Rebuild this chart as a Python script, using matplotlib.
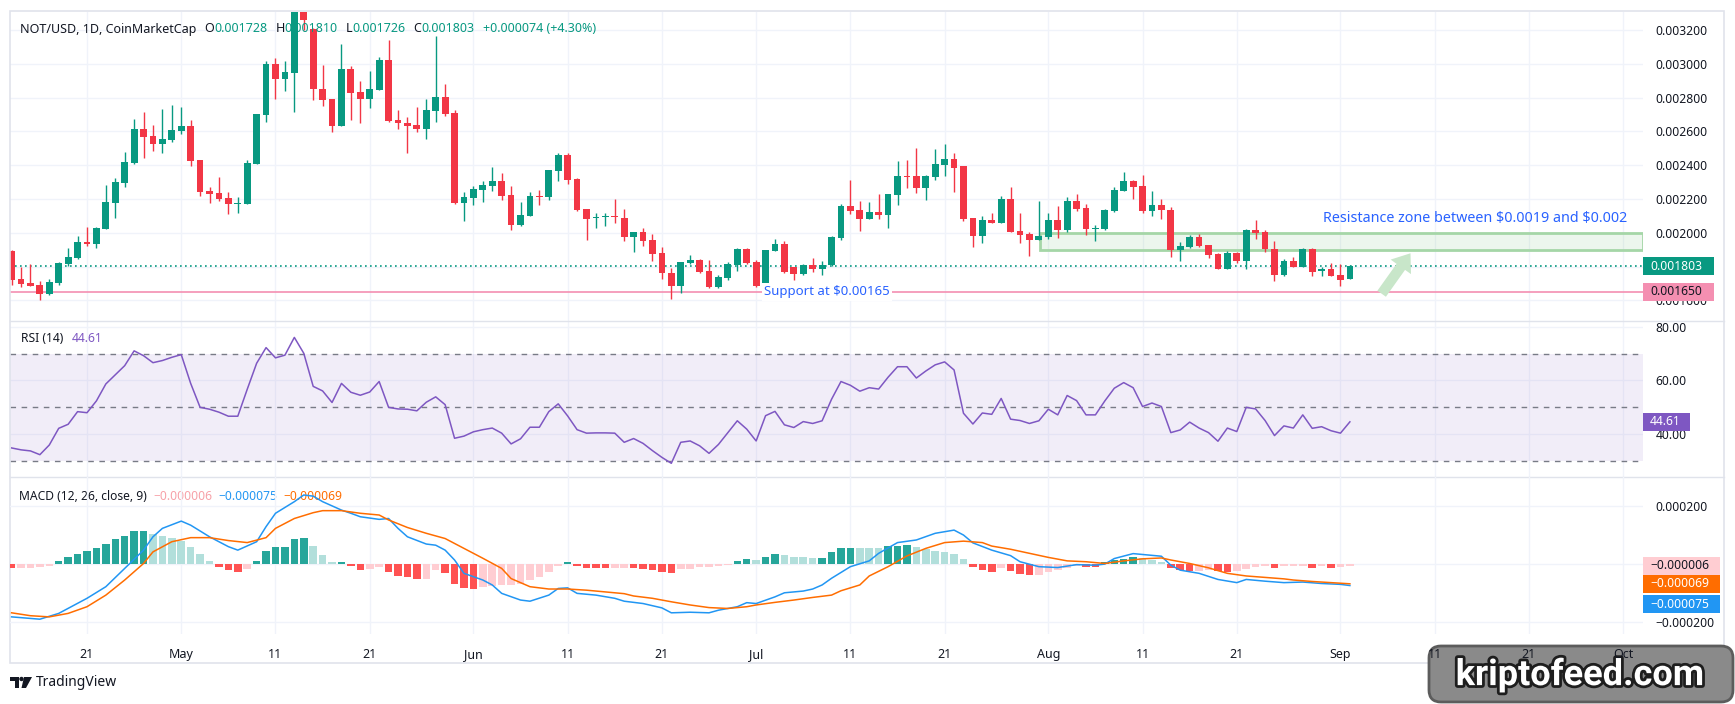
import numpy as np
import pandas as pd
import matplotlib
matplotlib.use("Agg")
import matplotlib.pyplot as plt
import matplotlib.patheffects as pe
from matplotlib.patches import Rectangle, FancyBboxPatch, Polygon, Circle
from matplotlib.transforms import IdentityTransform
from matplotlib.ticker import FuncFormatter

W, H = 1735, 704

# ---- data (prices in units of 0.001 USD) ----
start = "2025-04-13"
opens = [1.892, 1.727, 1.703, 1.691, 1.640, 1.705, 1.817, 1.853, 1.946, 1.936,
         2.024, 2.178, 2.297, 2.413, 2.614, 2.573, 2.527, 2.549, 2.604, 2.632,
         2.431, 2.247, 2.236, 2.206, 2.172, 2.172, 2.407, 2.699, 2.999, 2.912,
         2.948, 3.340, 3.204, 2.851, 2.792, 2.632, 2.969, 2.833, 2.792, 2.847,
         3.023, 2.667, 2.652, 2.638, 2.614, 2.723, 2.804, 2.709, 2.176, 2.208,
         2.253, 2.277, 2.306, 2.224, 2.046, 2.099, 2.218, 2.212, 2.366, 2.460,
         2.318, 2.141, 2.088, 2.092, 2.094, 2.088, 1.977, 2.005, 1.957, 1.881,
         1.762, 1.685, 1.821, 1.839, 1.774, 1.679, 1.733, 1.809, 1.904, 1.827,
         1.685, 1.892, 1.934, 1.798, 1.756, 1.809, 1.786, 1.809, 1.969, 2.159,
         2.135, 2.082, 2.123, 2.105, 2.224, 2.336, 2.336, 2.265, 2.330, 2.401,
         2.437, 2.395, 2.088, 1.981, 2.076, 2.058, 2.200, 2.011, 1.993, 1.957,
         1.975, 2.076, 2.017, 2.188, 2.147, 2.023, 2.023, 2.129, 2.247, 2.306,
         2.277, 2.129, 2.165, 2.135, 1.898, 1.916, 1.975, 1.928, 1.875, 1.788,
         1.881, 1.835, 2.017, 2.005, 1.902, 1.752, 1.831, 1.800, 1.902, 1.772,
         1.786, 1.750, 1.728]
highs = [1.898, 1.796, 1.815, 1.715, 1.727, 1.829, 1.910, 1.981, 2.034, 2.034,
         2.283, 2.324, 2.478, 2.673, 2.715, 2.638, 2.733, 2.756, 2.744, 2.667,
         2.431, 2.271, 2.330, 2.241, 2.212, 2.431, 2.703, 3.017, 3.036, 3.017,
         3.400, 3.400, 3.210, 2.993, 2.792, 3.119, 2.989, 2.898, 2.957, 3.040,
         3.141, 2.727, 2.685, 2.744, 2.792, 3.164, 2.881, 2.727, 2.241, 2.277,
         2.306, 2.389, 2.354, 2.277, 2.182, 2.241, 2.253, 2.372, 2.472, 2.472,
         2.324, 2.141, 2.117, 2.117, 2.200, 2.141, 2.005, 2.028, 1.993, 1.916,
         1.792, 1.827, 1.869, 1.845, 1.839, 1.750, 1.827, 1.910, 1.910, 1.839,
         1.898, 1.963, 1.952, 1.798, 1.813, 1.851, 1.833, 1.981, 2.170, 2.312,
         2.188, 2.182, 2.230, 2.230, 2.425, 2.431, 2.502, 2.340, 2.496, 2.525,
         2.472, 2.395, 2.088, 2.100, 2.117, 2.218, 2.271, 2.117, 2.005, 2.188,
         2.117, 2.159, 2.212, 2.230, 2.170, 2.046, 2.141, 2.271, 2.360, 2.310,
         2.342, 2.247, 2.200, 2.153, 1.946, 1.987, 1.993, 1.928, 1.880, 1.892,
         1.885, 2.020, 2.076, 2.017, 1.952, 1.845, 1.855, 1.908, 1.908, 1.800,
         1.819, 1.815, 1.810]
lows = [1.691, 1.681, 1.687, 1.604, 1.634, 1.693, 1.804, 1.845, 1.924, 1.912,
        2.024, 2.090, 2.273, 2.409, 2.445, 2.486, 2.474, 2.539, 2.585, 2.397,
        2.220, 2.178, 2.190, 2.113, 2.119, 2.172, 2.407, 2.658, 2.792, 2.839,
        2.715, 3.200, 2.783, 2.752, 2.598, 2.632, 2.667, 2.652, 2.738, 2.845,
        2.654, 2.616, 2.474, 2.598, 2.557, 2.658, 2.690, 2.170, 2.070, 2.165,
        2.182, 2.247, 2.194, 2.017, 2.040, 2.099, 2.165, 2.194, 2.306, 2.289,
        2.129, 1.957, 2.028, 2.042, 2.058, 1.952, 1.887, 1.922, 1.833, 1.727,
        1.608, 1.644, 1.815, 1.762, 1.675, 1.673, 1.721, 1.774, 1.815, 1.681,
        1.681, 1.890, 1.762, 1.721, 1.750, 1.768, 1.750, 1.804, 1.957, 2.111,
        2.011, 2.080, 2.082, 2.028, 2.165, 2.265, 2.236, 2.194, 2.312, 2.336,
        2.241, 2.070, 1.916, 1.940, 2.056, 2.056, 2.003, 1.940, 1.863, 1.955,
        1.963, 1.969, 2.005, 2.129, 1.987, 1.952, 2.017, 2.123, 2.247, 2.200,
        2.117, 2.099, 2.082, 1.857, 1.833, 1.912, 1.918, 1.851, 1.784, 1.784,
        1.819, 1.786, 1.963, 1.887, 1.717, 1.744, 1.798, 1.798, 1.745, 1.745,
        1.744, 1.687, 1.726]
closes = [1.723, 1.699, 1.687, 1.640, 1.709, 1.821, 1.857, 1.946, 1.936, 2.028,
          2.182, 2.301, 2.419, 2.614, 2.569, 2.527, 2.555, 2.608, 2.632, 2.427,
          2.243, 2.232, 2.202, 2.172, 2.176, 2.413, 2.703, 2.999, 2.912, 2.951,
          3.330, 3.260, 2.849, 2.788, 2.632, 2.969, 2.829, 2.792, 2.851, 3.023,
          2.663, 2.648, 2.632, 2.614, 2.727, 2.804, 2.703, 2.176, 2.212, 2.259,
          2.283, 2.306, 2.218, 2.046, 2.105, 2.218, 2.212, 2.372, 2.460, 2.312,
          2.135, 2.082, 2.094, 2.099, 2.092, 1.977, 2.005, 1.952, 1.877, 1.760,
          1.685, 1.827, 1.839, 1.768, 1.679, 1.739, 1.815, 1.904, 1.821, 1.685,
          1.898, 1.934, 1.768, 1.756, 1.809, 1.786, 1.809, 1.975, 2.159, 2.129,
          2.082, 2.123, 2.105, 2.230, 2.336, 2.330, 2.265, 2.336, 2.407, 2.437,
          2.383, 2.082, 1.981, 2.076, 2.058, 2.200, 2.005, 1.987, 1.957, 1.981,
          2.076, 2.017, 2.188, 2.141, 2.023, 2.028, 2.135, 2.253, 2.306, 2.271,
          2.129, 2.165, 2.135, 1.898, 1.922, 1.975, 1.922, 1.869, 1.788, 1.881,
          1.835, 2.017, 1.999, 1.902, 1.752, 1.831, 1.800, 1.902, 1.770, 1.786,
          1.746, 1.723, 1.803]

rsi = [34.9, 34.2, 33.8, 32.4, 36.0, 42.2, 43.7, 48.4, 48.0, 52.4,
       58.7, 62.1, 65.5, 71.0, 69.2, 66.6, 67.4, 68.6, 69.6, 58.9,
       50.0, 49.3, 48.2, 46.7, 46.7, 56.7, 66.4, 72.2, 68.4, 69.4,
       76.0, 70.1, 57.8, 56.1, 51.8, 58.9, 55.6, 54.5, 55.7, 59.6,
       50.0, 49.4, 49.3, 48.7, 51.9, 53.9, 51.0, 38.5, 39.3, 40.9,
       41.7, 42.3, 40.4, 36.4, 38.3, 42.6, 42.6, 48.4, 51.3, 46.8,
       41.7, 40.4, 40.5, 40.5, 40.4, 37.0, 38.4, 36.6, 33.9, 31.4,
       29.2, 37.0, 37.5, 35.7, 32.9, 36.2, 40.6, 45.0, 41.9, 37.5,
       46.9, 48.5, 43.5, 42.5, 44.7, 44.0, 45.0, 53.0, 59.6, 58.2,
       56.0, 57.3, 56.8, 61.2, 65.1, 65.1, 60.9, 63.5, 65.8, 66.9,
       63.9, 47.8, 43.8, 47.9, 47.4, 53.3, 45.6, 45.1, 44.0, 45.0,
       49.3, 47.2, 54.4, 52.5, 47.2, 47.2, 52.4, 57.1, 59.2, 57.3,
       50.3, 51.6, 50.3, 40.6, 41.6, 44.5, 42.3, 40.6, 37.4, 42.3,
       41.0, 50.0, 49.4, 45.1, 39.5, 43.1, 42.3, 47.2, 42.2, 42.8,
       41.3, 40.4, 44.61]

# MACD values in units of 1e-6
hist = [-16, -14, -13, -11, -7,
        9, 22, 33, 44, 56, 68, 84, 97, 113, 114,
        101, 97, 88, 79, 59, 33, 10, -10, -20, -28,
        -18, 9, 45, 57, 59, 87, 88, 61, 30, 5,
        6, -9, -20, -17, -10, -28, -43, -47, -54, -51,
        -22, -31, -68, -83, -86, -79, -75, -74, -72, -68,
        -57, -47, -28, -9, 6, -9, -14, -15, -16, -15,
        -14, -16, -18, -22, -28, -33, -18, -17, -12, -11,
        -9, -5, 10, 15, 13, 22, 34, 30, 24, 22,
        21, 21, 39, 53, 56, 55, 54, 53, 60, 62,
        64, 59, 51, 45, 40, 32, 16, -11, -21, -28,
        -15, -26, -36, -38, -37, -28, -22, -13, -6, -10,
        -11, 6, 12, 18, 22, 20, 13, 6, -15, -23,
        -25, -24, -20, -26, -29, -25, -18, -10, -6, -14,
        -9, -7, -6, -13, -8, -13, -12, -6]
macd_days = [0, 3, 5, 8, 10, 12, 14, 15, 16, 18, 19, 21, 23, 24, 26, 27, 28, 30,
             31, 32, 33, 35, 36, 37, 39, 40, 41, 42, 44, 45, 46, 47, 48, 50, 51,
             52, 54, 55, 57, 58, 59, 60, 62, 64, 65, 67, 69, 70, 72, 74, 75, 77,
             78, 79, 81, 82, 84, 85, 86, 87, 89, 91, 92, 94, 96, 98, 100, 101,
             102, 104, 106, 107, 109, 111, 113, 115, 116, 117, 119, 122, 123,
             124, 126, 128, 130, 131, 133, 135, 137, 139, 141, 142]
macd_vals = [-183, -191, -171, -119, -79, -16, 47, 93, 122, 147, 133, 93, 59, 47,
             76, 128, 174, 214, 237, 233, 214, 185, 174, 162, 153, 156, 122, 93,
             68, 64, 47, 13, -33, -56, -73, -102, -125, -129, -108, -85, -83,
             -102, -108, -119, -129, -137, -152, -169, -167, -169, -160, -148,
             -134, -137, -114, -100, -94, -87, -73, -50, -10, 10, 36, 73, 82,
             105, 116, 99, 72, 47, 28, 7, -10, -13, -3, -5, -1, 18, 35, 26, -5,
             -22, -33, -54, -65, -54, -60, -65, -63, -68, -71, -75]
signal_days = [0, 2, 4, 6, 8, 10, 12, 14, 15, 17, 19, 21, 23, 25, 27, 28, 30, 32,
               33, 35, 37, 39, 40, 42, 44, 46, 48, 50, 52, 53, 55, 57, 59, 61, 63,
               65, 66, 68, 70, 72, 74, 76, 78, 79, 81, 83, 85, 87, 88, 90, 91, 93,
               95, 97, 99, 101, 103, 104, 106, 108, 110, 112, 114, 116, 118, 120,
               122, 123, 125, 127, 129, 131, 133, 135, 136, 138, 140, 142]
signal_vals = [-169, -179, -183, -171, -148, -108, -56, 1, 41, 76, 90, 90, 80, 73,
               90, 122, 156, 176, 183, 183, 174, 168, 151, 125, 105, 87, 53, 19,
               -16, -51, -79, -87, -87, -91, -97, -103, -111, -119, -131, -142,
               -151, -154, -148, -142, -133, -125, -116, -108, -93, -73, -42, -10,
               27, 53, 73, 78, 73, 61, 50, 36, 22, 10, 7, 1, 10, 17, 20, 13, 1,
               -14, -33, -42, -47, -52, -56, -61, -65, -69]

tick_dates = ["2025-04-21", "2025-05-01", "2025-05-11", "2025-05-21", "2025-06-01",
              "2025-06-11", "2025-06-21", "2025-07-01", "2025-07-11", "2025-07-21",
              "2025-08-01", "2025-08-11", "2025-08-21", "2025-09-01", "2025-09-11",
              "2025-09-21", "2025-10-01"]
tick_labels = ["21", "May", "11", "21", "Jun", "11", "21", "Jul", "11", "21",
               "Aug", "11", "21", "Sep", "11", "21", "Oct"]

support_level = 1.65
zone_low, zone_high = 1.90, 2.00

# ---- setup ----
plt.rcParams["font.family"] = ["Noto Sans", "DejaVu Sans"]
UP, DOWN, TXT, GRID = "#089981", "#f23645", "#131722", "#f0f3fa"

o = np.array(opens) * 1e-3
h = np.array(highs) * 1e-3
l = np.array(lows) * 1e-3
c = np.array(closes) * 1e-3
x = np.arange(len(c))
t0 = pd.Timestamp(start)
tick_pos = [(pd.Timestamp(d) - t0).days for d in tick_dates]

fig = plt.figure(figsize=(W / 100, H / 100), dpi=100)
fig.patch.set_facecolor("white")


def box(x0, y0, x1, y1):
    return [x0 / W, 1 - y1 / H, (x1 - x0) / W, (y1 - y0) / H]


ax_p = fig.add_axes(box(10, 12, 1643, 321))
ax_r = fig.add_axes(box(10, 321, 1643, 477))
ax_m = fig.add_axes(box(10, 477, 1643, 634))

for ax in (ax_p, ax_r, ax_m):
    ax.set_xlim(-0.17, 173.1)
    ax.patch.set_visible(False)
    for s in ax.spines.values():
        s.set_visible(False)
    ax.set_xticks(tick_pos)
    ax.grid(True, color=GRID, lw=1)
    ax.set_axisbelow(True)
    ax.yaxis.tick_right()
    ax.tick_params(length=0, labelsize=8.7, labelcolor=TXT, pad=9)
ax_p.tick_params(axis="x", labelbottom=False)
ax_r.tick_params(axis="x", labelbottom=False)
ax_m.set_zorder(30)  # time labels stay above the watermark box

# ---- price pane ----
ax_p.set_ylim(0.001478, 0.003306)
ax_p.set_yticks(np.arange(0.0016, 0.00321, 0.0002))
ax_p.yaxis.set_major_formatter(FuncFormatter(lambda v, p: f"{v:.6f}"))
col = np.where(c >= o, UP, DOWN)
ax_p.vlines(x, l, h, color=col, lw=1, zorder=3)
body = np.maximum(np.abs(c - o), 0.000005)
ax_p.bar(x, body, bottom=np.minimum(o, c), width=0.72, color=col, zorder=3)

ax_p.axhline(c[-1], color=UP, lw=1.2, ls=(0, (1, 2)), zorder=2)
ax_p.axhline(support_level * 1e-3, color="#f48fb1", lw=1.2, zorder=2)
ax_p.text(86.5, support_level * 1e-3, "Support at \\$0.00165", ha="center", va="center",
          color="#2962ff", fontsize=9.5, zorder=4,
          bbox=dict(fc="white", ec="none", pad=1.5))
ax_p.add_patch(Rectangle((109.1, zone_low * 1e-3), 64, (zone_high - zone_low) * 1e-3,
                         fc="#4caf50", alpha=0.1, ec="none", zorder=2))
ax_p.add_patch(Rectangle((109.1, zone_low * 1e-3), 64, (zone_high - zone_low) * 1e-3,
                         fc="none", ec="#a5d6a7", lw=2, zorder=2))
ax_p.text(139.1, 0.0020817, "Resistance zone between \\$0.0019 and \\$0.002", ha="left",
          va="center", color="#2962ff", fontsize=10.3, zorder=4)
ax_p.annotate("", xy=(148.6, 0.001892), xytext=(145.2, 0.001626),
              arrowprops=dict(arrowstyle="simple,head_width=1.8,head_length=1.2,tail_width=0.75",
                              color="#c8e6c9", lw=0), zorder=4)

# ---- RSI pane ----
ax_r.set_ylim(24.1, 82.1)
ax_r.set_yticks([40, 60, 80])
ax_r.yaxis.set_major_formatter(FuncFormatter(lambda v, p: f"{v:.2f}"))
ax_r.axhspan(30, 70, color="#7e57c2", alpha=0.1, lw=0)
for lev in (70, 50, 30):
    ax_r.axhline(lev, color="#787b86", lw=1, ls=(0, (4, 4)))
ax_r.plot(x, rsi, color="#7e57c2", lw=1.1, zorder=3)

# ---- MACD pane ----
hv = np.array(hist) * 1e-6
prev = np.concatenate([[hv[0]], hv[:-1]])
hcol = np.where(hv >= 0, np.where(hv >= prev, "#26a69a", "#b2dfdb"),
                np.where(hv <= prev, "#ff5252", "#ffcdd2"))
ax_m.set_ylim(-0.000242, 0.000299)
ax_m.set_yticks([-0.0002, 0, 0.0002])
ax_m.yaxis.set_major_formatter(
    FuncFormatter(lambda v, p: "" if abs(v) < 1e-9 else f"{v:.6f}".replace("-", "\u2212")))
ax_m.bar(x, hv, width=0.8, color=hcol, zorder=2)
ax_m.plot(macd_days, np.array(macd_vals) * 1e-6, color="#2196f3", lw=1.1, zorder=3)
ax_m.plot(signal_days, np.array(signal_vals) * 1e-6, color="#ff6d00", lw=1.1, zorder=3)
ax_m.set_xticklabels(tick_labels)
ax_m.tick_params(axis="x", pad=10, labelsize=9)
for lab in ax_m.get_xticklabels():
    if not lab.get_text().isdigit():
        lab.set_fontweight("bold")

# ---- frame and separators ----
for yy in (321, 477):
    fig.add_artist(plt.Line2D([10 / W, 1724 / W], [1 - yy / H] * 2, color="#e0e3eb", lw=1))
fig.add_artist(Rectangle((10 / W, 1 - 663 / H), 1714 / W, 652 / H, fill=False,
                         ec="#e0e3eb", lw=1.2, transform=fig.transFigure))


# ---- value tags on the right axis ----
def tag(ax, val, text, bg, fg, dy=0, right=1714):
    ypix = H - ax.transData.transform((0, val))[1] + dy
    fig.add_artist(Rectangle((1643 / W, 1 - (ypix + 9) / H), (right - 1643) / W, 18 / H,
                             fc=bg, ec="none", transform=fig.transFigure, zorder=40))
    fig.text(1650 / W, 1 - ypix / H, text, color=fg, fontsize=8.7, ha="left",
             va="center", zorder=41)


tag(ax_p, c[-1], f"{c[-1]:.6f}", UP, "white")
tag(ax_p, support_level * 1e-3, f"{support_level * 1e-3:.6f}", "#f48fb1", TXT)
tag(ax_r, rsi[-1], f"{rsi[-1]:.2f}", "#7e57c2", "white", right=1690)
tag(ax_m, hist[-1] * 1e-6, f"\u2212{abs(hist[-1]) * 1e-6:.6f}", "#ffcdd2", TXT, right=1720)
tag(ax_m, signal_vals[-1] * 1e-6, f"\u2212{abs(signal_vals[-1]) * 1e-6:.6f}", "#ff6d00",
    "white", right=1720)
tag(ax_m, macd_vals[-1] * 1e-6, f"\u2212{abs(macd_vals[-1]) * 1e-6:.6f}", "#2196f3",
    "white", dy=18.5, right=1720)

# ---- legends / headers: pieces laid out left to right ----
renderer = fig.canvas.get_renderer()


def line_text(parts, x0, y, size):
    xx = x0
    for s, colr, gap in parts:
        t = fig.text(xx / W, 1 - y / H, s, color=colr, fontsize=size, ha="left", va="center")
        xx = t.get_window_extent(renderer).x1 + gap


line_text([("NOT/USD, 1D, CoinMarketCap", TXT, 8),
           ("O", TXT, 0), (f"{o[-1]:.6f}", UP, 8),
           ("H", TXT, 0), (f"{h[-1]:.6f}", UP, 8),
           ("L", TXT, 0), (f"{l[-1]:.6f}", UP, 8),
           ("C", TXT, 0), (f"{c[-1]:.6f}", UP, 8),
           ("+0.000074 (+4.30%)", UP, 0)], 20, 29, 9)
line_text([("RSI (14)", TXT, 8), (f"{rsi[-1]:.2f}", "#7e57c2", 0)], 21, 339, 8.7)
line_text([("MACD (12, 26, close, 9)", TXT, 7),
           (f"\u2212{abs(hist[-1]) * 1e-6:.6f}", "#f7a1a8", 6),
           (f"\u2212{abs(macd_vals[-1]) * 1e-6:.6f}", "#2196f3", 6),
           (f"\u2212{abs(signal_vals[-1]) * 1e-6:.6f}", "#ff6d00", 0)], 19, 496, 8.7)

# ---- TradingView logo ----
ident = IdentityTransform()
fig.add_artist(Polygon([(10, H - 677), (19, H - 677), (19, H - 688), (15, H - 688),
                        (15, H - 681), (10, H - 681)], closed=True, fc=TXT, ec="none",
                       transform=ident))
fig.add_artist(Circle((21.5, H - 679), 2.2, fc=TXT, ec="none", transform=ident))
fig.add_artist(Polygon([(24, H - 677), (32, H - 677), (26, H - 688), (21.5, H - 688)],
                       closed=True, fc=TXT, ec="none", transform=ident))
fig.text(36 / W, 1 - 682 / H, "TradingView", color=TXT, fontsize=10, ha="left", va="center")

# ---- watermark ----
fig.add_artist(FancyBboxPatch((1429, H - 702), 304, 56,
                              boxstyle="round,pad=0,rounding_size=12", fc="#8a8a8a",
                              ec="#5c5c5c", lw=2, transform=ident, zorder=20))
fig.text(1580 / W, 1 - 675 / H, "kriptofeed.com", color="white", fontsize=26,
         family=["Roboto", "DejaVu Sans"], fontweight="bold", ha="center", va="center",
         zorder=21, path_effects=[pe.withStroke(linewidth=4, foreground="#1e1e1e")])

fig.savefig("out.png", dpi=100, facecolor="white")
